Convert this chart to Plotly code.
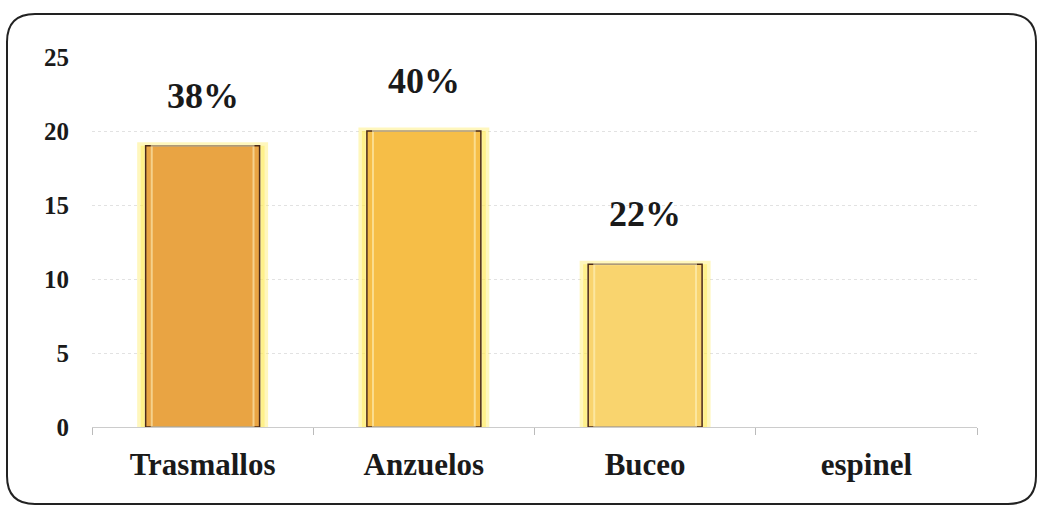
import plotly.graph_objects as go

categories = ["Trasmallos", "Anzuelos", "Buceo", "espinel"]
values = [19, 20, 11, 0]
percent_labels = ["38%", "40%", "22%", ""]
bar_colors = ["#E9A443", "#F6BE47", "#F9D46E", "#F9D46E"]

FONT = "Liberation Serif, Times New Roman, serif"

fig = go.Figure()

glow_w = [7 if v > 0 else 0 for v in values]
edge_w = [1.5 if v > 0 else 0 for v in values]
hi_w = [2 if v > 0 else 0 for v in values]

# soft yellow glow behind bars
fig.add_trace(go.Bar(
    x=categories, y=values, width=0.56,
    marker=dict(color="rgba(255,236,90,0.5)",
                line=dict(color="rgba(255,236,90,0.4)", width=glow_w)),
    hoverinfo="skip", showlegend=False,
))
# main bars
fig.add_trace(go.Bar(
    x=categories, y=values, width=0.515,
    marker=dict(color=bar_colors, line=dict(color="#4a2a1a", width=edge_w)),
    showlegend=False,
))
# inner bevel highlight
fig.add_trace(go.Bar(
    x=categories, y=values, width=0.46,
    marker=dict(color="rgba(0,0,0,0)", line=dict(color="rgba(255,245,200,0.55)", width=hi_w)),
    hoverinfo="skip", showlegend=False,
))

for c, v, t in zip(categories, values, percent_labels):
    if t:
        fig.add_annotation(x=c, y=v, text=t, showarrow=False, yshift=50,
                           font=dict(family=FONT, size=36, color="#1a1a1a", weight="bold"))

W, H = 1041, 506
ML, MR, MT, MB = 92, 64, 57, 79

fig.update_layout(
    width=W, height=H,
    barmode="overlay",
    paper_bgcolor="white", plot_bgcolor="white",
    margin=dict(l=ML, r=MR, t=MT, b=MB),
    font=dict(family=FONT, color="#1a1a1a"),
    xaxis=dict(
        tickfont=dict(family=FONT, size=31, weight="bold"),
        tickson="boundaries", ticks="outside", ticklen=7, tickcolor="#bbbbbb",
        showline=True, linecolor="#cccccc", linewidth=1,
        showgrid=False, ticklabelstandoff=10,
    ),
    yaxis=dict(
        range=[0, 25], dtick=5,
        tickfont=dict(family=FONT, size=25, weight="bold"),
        showgrid=True, gridcolor="#e2e2e2", griddash="dot", gridwidth=1,
        zeroline=False, ticklabelstandoff=22,
    ),
)

# rounded outer border (pixel positions converted to paper coords)
pw, ph = W - ML - MR, H - MT - MB
def px(x):
    return (x - ML) / pw
def py(y):
    return (H - MB - y) / ph
x0, x1, y0, y1, r = 7, 1036, 14, 504, 28
path = (f"M {px(x0+r)} {py(y0)} L {px(x1-r)} {py(y0)} "
        f"Q {px(x1)} {py(y0)} {px(x1)} {py(y0+r)} L {px(x1)} {py(y1-r)} "
        f"Q {px(x1)} {py(y1)} {px(x1-r)} {py(y1)} L {px(x0+r)} {py(y1)} "
        f"Q {px(x0)} {py(y1)} {px(x0)} {py(y1-r)} L {px(x0)} {py(y0+r)} "
        f"Q {px(x0)} {py(y0)} {px(x0+r)} {py(y0)} Z")
fig.add_shape(type="path", xref="paper", yref="paper", path=path,
              line=dict(color="#222222", width=2), layer="above")

fig.write_html("out.html", config={"displayModeBar": False},
               post_script="document.body.style.margin='0';")
